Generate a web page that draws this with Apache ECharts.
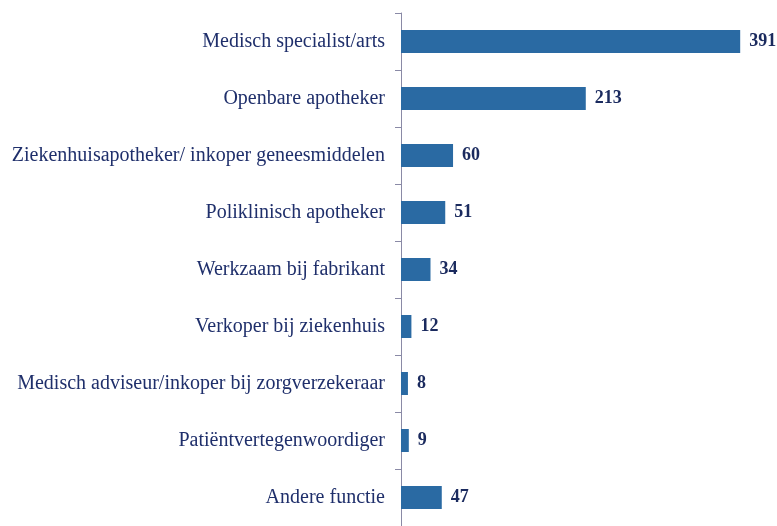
<!DOCTYPE html>
<html>
<head>
<meta charset="UTF-8">
<title>Functies</title>
<script src="https://cdn.jsdelivr.net/npm/echarts@6/dist/echarts.min.js"></script>
<style>
  html, body { margin: 0; height: 100%; background: #fff; }
</style>
</head>
<body>
<div id="main" style="width:777px;height:526px"></div>
<script>
var categories = [
  'Medisch specialist/arts',
  'Openbare apotheker',
  'Ziekenhuisapotheker/ inkoper geneesmiddelen',
  'Poliklinisch apotheker',
  'Werkzaam bij fabrikant',
  'Verkoper bij ziekenhuis',
  'Medisch adviseur/inkoper bij zorgverzekeraar',
  'Patiëntvertegenwoordiger',
  'Andere functie'
];
var values = [391, 213, 60, 51, 34, 12, 8, 9, 47];

var chart = echarts.init(document.getElementById('main'));
chart.setOption({
  animation: false,
  grid: { left: 401, top: 13, width: 347, height: 517 },
  xAxis: {
    type: 'value', min: 0, max: 400, show: false
  },
  yAxis: {
    type: 'category',
    data: categories,
    inverse: true,
    axisLine: { lineStyle: { color: '#8a8aa6', width: 1 } },
    axisTick: { show: true, length: 6, lineStyle: { color: '#8a8aa6' } },
    axisLabel: {
      margin: 16,
      color: '#1f2f6b',
      fontFamily: 'Liberation Serif',
      fontSize: 20
    }
  },
  series: [{
    type: 'bar',
    data: values,
    barWidth: 23,
    itemStyle: { color: '#2a6aa3' },
    label: {
      show: true,
      position: 'right',
      distance: 9,
      color: '#1a2a5e',
      fontFamily: 'Liberation Serif',
      fontWeight: 'bold',
      fontSize: 18
    }
  }]
});
</script>
</body>
</html>
